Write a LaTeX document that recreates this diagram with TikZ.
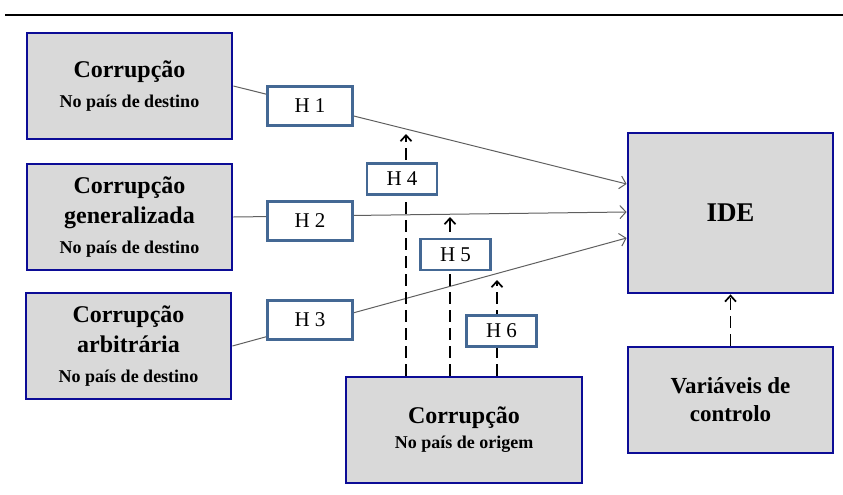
\documentclass[tikz,border=0pt]{standalone}
\usepackage{fontspec}
\setmainfont{Liberation Serif}
\usetikzlibrary{positioning, arrows.meta, calc}

\definecolor{boxblue}{RGB}{12,12,150}
\definecolor{boxgray}{RGB}{217,217,217}
\definecolor{hblue}{RGB}{68,104,148}
\definecolor{linegray}{RGB}{95,95,95}

\newcommand{\varname}[1]{{\fontsize{24}{30}\selectfont #1}}

\begin{document}
\begin{tikzpicture}[x=1pt, y=-1pt,
    varbox/.style={draw=boxblue, line width=2.8pt, fill=boxgray, rectangle, minimum width=205pt, minimum height=106pt, inner sep=0pt, align=center, font=\bfseries\fontsize{18}{30}\selectfont},
    hbox/.style={draw=hblue, line width=2.8pt, fill=white, rectangle, minimum width=85pt, minimum height=39pt, inner sep=0pt, font=\fontsize{21}{24}\selectfont},
    hsmall/.style={hbox, minimum width=70pt, minimum height=31pt},
    effect/.style={draw=linegray, line width=1pt, -{Straight Barb[length=6pt, width=13pt]}},
    moderate/.style={draw=black, line width=1.7pt, dash pattern=on 12pt off 6pt, -{Straight Barb[length=6pt, width=11pt]}}]

      \useasboundingbox (0,0) rectangle (843,495);
      \draw[line width=2.2pt] (5,15) -- (843,15);

      % Corruption in the host country
      \node[varbox] (dest) at (129.5,86) {\varname{Corrupção}\\No país de destino};
      \node[varbox] (geral) at (129.5,217) {\varname{Corrupção}\\\varname{generalizada}\\No país de destino};
      \node[varbox] (arbit) at (128.5,346) {\varname{Corrupção}\\\varname{arbitrária}\\No país de destino};

      % Dependent variable and controls
      \node[varbox, minimum height=160pt] (ide) at (730.5,213) {\fontsize{27}{30}\selectfont IDE};
      \node[varbox, font=\bfseries\fontsize{23}{28}\selectfont] (ctrl) at (730.5,400) {Variáveis de\\controlo};

      % Corruption in the home country
      \node[varbox, minimum width=236pt, font=\bfseries\fontsize{18}{25}\selectfont] (orig) at (464,430) {\varname{Corrupção}\\No país de origem};

      % Direct effects
      \draw[effect] (dest.east) -- ([yshift=29pt]ide.west);
      \draw[effect] (geral.east) -- ([yshift=1pt]ide.west);
      \draw[effect] (arbit.east) -- ([yshift=-25pt]ide.west);

      % Moderating effects
      \coordinate (tip4) at (406,134);
      \coordinate (tip5) at (450,217);
      \coordinate (tip6) at (497,280);
      \draw[moderate] (orig.north -| tip4) -- (tip4);
      \draw[moderate] (orig.north -| tip5) -- (tip5);
      \draw[moderate] (orig.north -| tip6) -- (tip6);
      \draw[moderate] (ctrl.north) -- (ide.south);

      % Hypotheses
      \node[hbox] (h1) at (310,106) {H 1};
      \node[hbox] (h2) at (310,221) {H 2};
      \node[hbox] (h3) at (310,320) {H 3};
      \node[hsmall] (h4) at (402,179) {H 4};
      \node[hsmall] (h5) at (455.5,254.5) {H 5};
      \node[hsmall] (h6) at (501.5,331) {H 6};
    \end{tikzpicture}
\end{document}
